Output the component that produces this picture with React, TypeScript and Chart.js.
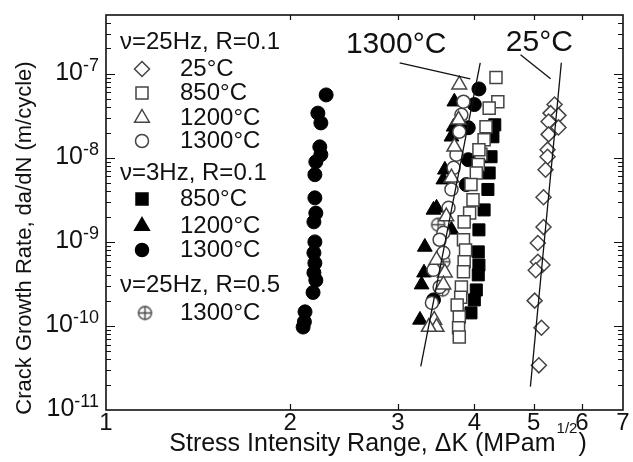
import React, { useEffect, useRef } from 'react';
import { Chart, registerables } from 'chart.js';

Chart.register(...registerables);

const FONT = '"Liberation Sans", Arial, Helvetica, sans-serif';

// ---- axis ranges and ticks ----
const X_MIN = 1;
const X_MAX = 7;
const Y_MIN = 1e-11;
const Y_MAX = 5e-7;
const xTickValues = [1, 2, 3, 4, 5, 6, 7];
const xTickLabels = ['1', '2', '3', '4', '5', '6', '7'];
const yDecadeExps = [-11, -10, -9, -8, -7];

// ---- series: v=25Hz, R=0.1 ----
const d25X = [5.41, 5.33, 5.49, 5.29, 5.49, 5.29, 5.27, 5.27, 5.23, 5.19, 5.19, 5.08, 5.08, 5.17, 5.04, 5.02, 5.15, 5.10];
const d25Y = [4.3e-8, 3.4e-8, 3.2e-8, 2.7e-8, 2.3e-8, 1.9e-8, 1.25e-8, 1.03e-8, 7.2e-9, 3.4e-9, 1.5e-9, 9.7e-10, 5.8e-10, 5.3e-10, 4.6e-10, 2.0e-10, 9.5e-11, 3.4e-11];

const s850X = [4.34, 4.37, 4.23, 4.18, 4.15, 4.10, 4.07, 4.06, 4.03, 3.95, 3.98, 3.93, 3.85, 3.84, 3.87, 3.85, 3.84, 3.81, 3.80, 3.75, 3.78, 3.77, 3.78];
const s850Y = [9.0e-8, 4.65e-8, 3.9e-8, 2.34e-8, 1.64e-8, 1.1e-8, 1.25e-8, 8.3e-9, 6.6e-9, 4.8e-9, 3.16e-9, 2.2e-9, 1.73e-9, 1.06e-9, 8.0e-10, 5.8e-10, 4.4e-10, 2.9e-10, 2.2e-10, 1.78e-10, 1.28e-10, 9.5e-11, 7.4e-11];

const t1200X = [3.78, 3.77, 3.71, 3.67, 3.60, 3.47, 3.58, 3.56, 3.44, 3.47, 3.37];
const t1200Y = [7.4e-8, 2.83e-8, 1.35e-8, 5.8e-9, 2.0e-9, 6.1e-10, 4.3e-10, 3.1e-10, 1.18e-10, 9.7e-11, 9.7e-11];

const c1300X = [3.84, 3.81, 3.78, 3.74, 3.70, 3.67, 3.63, 3.56, 3.51, 3.56, 3.43, 3.51, 3.41];
const c1300Y = [4.65e-8, 3.25e-8, 2.04e-8, 1.09e-8, 7.6e-9, 4.2e-9, 2.54e-9, 1.28e-9, 1.06e-9, 7.4e-10, 4.65e-10, 2.9e-10, 1.88e-10];

// ---- series: v=3Hz, R=0.1 ----
const fs850X = [4.32, 4.29, 4.26, 4.23, 4.21, 4.15, 4.07, 4.06, 4.07, 4.06, 4.03, 4.00, 3.95];
const fs850Y = [2.47e-8, 1.78e-8, 1.03e-8, 6.6e-9, 4.2e-9, 2.4e-9, 1.39e-9, 7.6e-10, 5.3e-10, 4.05e-10, 2.68e-10, 2.04e-10, 1.43e-10];

const ft1200X = [3.71, 3.70, 3.67, 3.58, 3.56, 3.47, 3.43, 3.67, 3.32, 3.31, 3.28, 3.26];
const ft1200Y = [4.65e-8, 2.34e-8, 1.78e-8, 7.2e-9, 5.5e-9, 2.54e-9, 2.4e-9, 1.39e-9, 8.7e-10, 4.3e-10, 3.1e-10, 1.18e-10];

const fc1300X = [2.29, 2.22, 2.245, 2.236, 2.245, 2.203, 2.195, 2.195, 2.203, 2.187, 2.195, 2.187, 2.195, 2.187, 2.203, 2.18, 2.115, 2.11, 2.10, 4.07, 4.00, 3.91, 3.91, 3.88, 3.43];
const fc1300Y = [5.6e-8, 3.4e-8, 2.6e-8, 1.35e-8, 1.09e-8, 8.95e-9, 6.3e-9, 3.34e-9, 2.2e-9, 1.73e-9, 1.0e-9, 7.4e-10, 5.6e-10, 4.3e-10, 3.5e-10, 2.5e-10, 1.47e-10, 1.12e-10, 9.7e-11, 6.6e-8, 4.3e-8, 2.28e-8, 9.5e-9, 4.8e-9, 2.04e-10];

// ---- series: v=25Hz, R=0.5 ----
const xc1300X = [3.49, 3.56, 3.55];
const xc1300Y = [1.6e-9, 5.8e-10, 2.7e-10];

// ---- fit lines and leader lines ----
const fit1300X = [3.27, 4.09];
const fit1300Y = [3.3e-11, 1.35e-7];
const fit25X = [4.94, 5.55];
const fit25Y = [1.9e-11, 1.35e-7];
const lead1300X = [3.02, 3.94];
const lead1300Y = [1.35e-7, 8.7e-8];
const lead25X = [4.76, 5.33];
const lead25Y = [1.68e-7, 8.7e-8];

// ---- annotations ----
const annoTexts = ['1300°C', '25°C'];
const annoX = [2.98, 5.11];
const annoY = [2.2e-7, 2.34e-7];

// ---- legend ----
const legendHeaders = ['ν=25Hz, R=0.1', 'ν=3Hz, R=0.1', 'ν=25Hz, R=0.5'];
const legendLabels = ['25°C', '850°C', '1200°C', '1300°C', '850°C', '1200°C', '1300°C', '1300°C'];

const zip = (xs: number[], ys: number[]) => xs.map((x, i) => ({ x, y: ys[i] }));

const OPEN = '#444';

function makeCrossCircle(r: number) {
  const c = document.createElement('canvas');
  const s = Math.ceil(2 * r + 4);
  c.width = s;
  c.height = s;
  const g = c.getContext('2d')!;
  g.strokeStyle = OPEN;
  g.lineWidth = 1.4;
  g.fillStyle = '#fff';
  g.beginPath();
  g.arc(s / 2, s / 2, r, 0, Math.PI * 2);
  g.fill();
  g.stroke();
  g.beginPath();
  g.moveTo(s / 2 - r, s / 2);
  g.lineTo(s / 2 + r, s / 2);
  g.moveTo(s / 2, s / 2 - r);
  g.lineTo(s / 2, s / 2 + r);
  g.stroke();
  return c;
}

function drawMarker(ctx: CanvasRenderingContext2D, shape: string, x: number, y: number, filled: boolean, cross?: HTMLCanvasElement) {
  ctx.save();
  ctx.lineWidth = 1.5;
  ctx.strokeStyle = filled ? '#000' : OPEN;
  ctx.fillStyle = filled ? '#000' : '#fff';
  ctx.beginPath();
  if (shape === 'diamond') {
    const r = 7.5;
    ctx.moveTo(x, y - r); ctx.lineTo(x + r, y); ctx.lineTo(x, y + r); ctx.lineTo(x - r, y); ctx.closePath();
  } else if (shape === 'square') {
    ctx.rect(x - 6, y - 6, 12, 12);
  } else if (shape === 'triangle') {
    const r = 8.5;
    ctx.moveTo(x, y - r); ctx.lineTo(x + r * 0.866, y + r * 0.5); ctx.lineTo(x - r * 0.866, y + r * 0.5); ctx.closePath();
  } else if (shape === 'circle') {
    ctx.arc(x, y, 6.5, 0, Math.PI * 2);
  } else if (shape === 'cross' && cross) {
    ctx.drawImage(cross, x - cross.width / 2, y - cross.height / 2);
    ctx.restore();
    return;
  }
  ctx.fill();
  ctx.stroke();
  ctx.restore();
}

function makeOverlay(cross: HTMLCanvasElement) {
  return {
    id: 'overlay',
    afterDraw(chart: any) {
      const { ctx, chartArea: a, scales } = chart;
      const xs = scales.x;
      const ys = scales.y;
      ctx.save();
      ctx.fillStyle = '#111';
      ctx.strokeStyle = '#111';

      // frame
      ctx.lineWidth = 1.6;
      ctx.strokeRect(a.left, a.top, a.right - a.left, a.bottom - a.top);

      // y ticks (left and right, inward)
      ctx.lineWidth = 1.2;
      ctx.beginPath();
      for (const e of yDecadeExps) {
        for (let m = 1; m <= 9; m++) {
          const v = m * Math.pow(10, e);
          if (v <= Y_MIN * 1.0001 || v >= Y_MAX * 0.9999) continue;
          const py = Math.round(ys.getPixelForValue(v)) + 0.5;
          const len = m === 1 ? 9 : 5;
          ctx.moveTo(a.left, py); ctx.lineTo(a.left + len, py);
          ctx.moveTo(a.right, py); ctx.lineTo(a.right - len, py);
        }
      }
      // x ticks (top and bottom, inward)
      for (const v of xTickValues) {
        if (v <= X_MIN || v >= X_MAX) continue;
        const px = Math.round(xs.getPixelForValue(v)) + 0.5;
        ctx.moveTo(px, a.bottom); ctx.lineTo(px, a.bottom - 6);
        ctx.moveTo(px, a.top); ctx.lineTo(px, a.top + 5);
      }
      ctx.stroke();

      // x tick labels
      ctx.font = `24px ${FONT}`;
      ctx.textAlign = 'center';
      ctx.textBaseline = 'middle';
      xTickValues.forEach((v, i) => {
        const px = xs.getPixelForValue(v);
        ctx.fillText(xTickLabels[i], px, a.bottom + 13);
      });

      // y tick labels 10^n
      yDecadeExps.forEach((e) => {
        const py = ys.getPixelForValue(Math.pow(10, e));
        const expStr = `-${-e}`;
        ctx.font = `18px ${FONT}`;
        const ew = ctx.measureText(expStr).width;
        ctx.textAlign = 'right';
        ctx.textBaseline = 'middle';
        ctx.fillText(expStr, 99, py - 8);
        ctx.font = `25px ${FONT}`;
        ctx.fillText('10', 99 - ew, py - 1);
      });

      // x axis title
      const t1 = 'Stress Intensity Range, ΔK (MPam';
      const t2 = '1/2';
      const t3 = ')';
      ctx.textAlign = 'left';
      ctx.textBaseline = 'alphabetic';
      ctx.font = `25px ${FONT}`;
      const w1 = ctx.measureText(t1).width;
      const w3 = ctx.measureText(t3).width;
      ctx.font = `15px ${FONT}`;
      const w2 = ctx.measureText(t2).width;
      const total = w1 + w2 + w3 + 2;
      const sx = 378 - total / 2;
      ctx.font = `25px ${FONT}`;
      ctx.fillText(t1, sx, 451);
      ctx.font = `15px ${FONT}`;
      ctx.fillText(t2, sx + w1 + 1, 433);
      ctx.font = `25px ${FONT}`;
      ctx.fillText(t3, sx + w1 + w2 + 2, 451);

      // y axis title
      ctx.save();
      ctx.translate(25, 238);
      ctx.rotate(-Math.PI / 2);
      ctx.textAlign = 'center';
      ctx.textBaseline = 'middle';
      ctx.font = `22px ${FONT}`;
      ctx.fillText('Crack Growth Rate, da/dN (m/cycle)', 0, 0);
      ctx.restore();

      // annotations
      ctx.font = `30px ${FONT}`;
      ctx.textAlign = 'center';
      ctx.textBaseline = 'middle';
      annoTexts.forEach((t, i) => {
        ctx.fillText(t, xs.getPixelForValue(annoX[i]), ys.getPixelForValue(annoY[i]));
      });

      // legend
      ctx.textAlign = 'left';
      ctx.textBaseline = 'middle';
      const headerY = [42, 173, 285];
      ctx.font = `24px ${FONT}`;
      legendHeaders.forEach((h, i) => ctx.fillText(h, 120, headerY[i]));
      const itemY = [69, 93, 118, 141, 199, 226, 250, 313];
      const shapes = ['diamond', 'square', 'triangle', 'circle', 'square', 'triangle', 'circle', 'cross'];
      const filled = [false, false, false, false, true, true, true, false];
      legendLabels.forEach((lbl, i) => {
        const mx = shapes[i] === 'cross' ? 145 : 142;
        drawMarker(ctx, shapes[i], mx, itemY[i], filled[i], cross);
        ctx.fillStyle = '#111';
        ctx.font = `24px ${FONT}`;
        ctx.fillText(lbl, 180, itemY[i]);
      });
      ctx.restore();
    },
  };
}

export default function App() {
  const ref = useRef<HTMLCanvasElement>(null);
  useEffect(() => {
    if (!ref.current) return;
    const cross = makeCrossCircle(6.5);
    const openStyle = { backgroundColor: '#fff', borderColor: OPEN, borderWidth: 1.5 };
    const fillStyle = { backgroundColor: '#000', borderColor: '#000', borderWidth: 1 };
    const lineStyle = { showLine: true, pointRadius: 0, borderColor: '#111', borderWidth: 1.3, fill: false };
    const chart = new Chart(ref.current, {
      type: 'scatter',
      data: {
        datasets: [
          { label: 'fit1300', data: zip(fit1300X, fit1300Y), ...lineStyle },
          { label: 'fit25', data: zip(fit25X, fit25Y), ...lineStyle },
          { label: 'lead1300', data: zip(lead1300X, lead1300Y), ...lineStyle },
          { label: 'lead25', data: zip(lead25X, lead25Y), ...lineStyle },
          { label: '25°C', data: zip(d25X, d25Y), pointStyle: 'rectRot', pointRadius: 7.5, ...openStyle },
          { label: '850°C', data: zip(s850X, s850Y), pointStyle: 'rect', pointRadius: 8.5, ...openStyle },
          { label: '1200°C', data: zip(t1200X, t1200Y), pointStyle: 'triangle', pointRadius: 8.5, ...openStyle },
          { label: '1300°C', data: zip(c1300X, c1300Y), pointStyle: 'circle', pointRadius: 6.5, ...openStyle },
          { label: '850°C 3Hz', data: zip(fs850X, fs850Y), pointStyle: 'rect', pointRadius: 8.5, ...fillStyle },
          { label: '1200°C 3Hz', data: zip(ft1200X, ft1200Y), pointStyle: 'triangle', pointRadius: 8.5, ...fillStyle },
          { label: '1300°C 3Hz', data: zip(fc1300X, fc1300Y), pointStyle: 'circle', pointRadius: 7, ...fillStyle },
          { label: '1300°C R=0.5', data: zip(xc1300X, xc1300Y), pointStyle: cross as any, pointRadius: 6.5, ...openStyle },
        ] as any,
      },
      options: {
        responsive: false,
        animation: false,
        devicePixelRatio: 1,
        layout: { padding: { left: 106, top: 15, right: 6, bottom: 52 } },
        plugins: { legend: { display: false }, tooltip: { enabled: false } },
        scales: {
          x: { type: 'logarithmic', min: X_MIN, max: X_MAX, display: false },
          y: { type: 'logarithmic', min: Y_MIN, max: Y_MAX, display: false },
        },
      },
      plugins: [makeOverlay(cross)],
    });
    return () => chart.destroy();
  }, []);
  return (
    <div style={{ position: 'fixed', left: 0, top: 0, width: 633, height: 462, background: '#fff' }}>
      <canvas ref={ref} width={633} height={462} style={{ display: 'block' }} />
    </div>
  );
}
